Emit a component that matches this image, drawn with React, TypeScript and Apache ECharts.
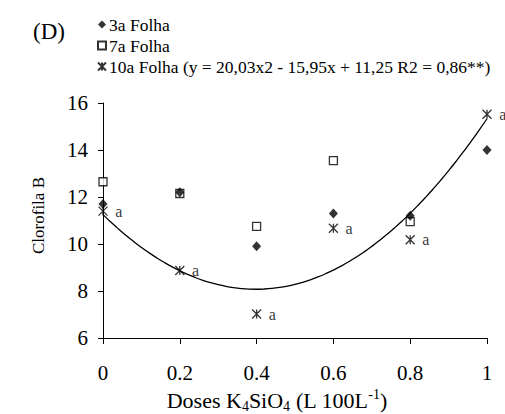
import React, { useEffect, useRef } from "react";
import * as echarts from "echarts";

// Doses of K4SiO4 (L 100L-1)
const doses = [0, 0.2, 0.4, 0.6, 0.8, 1];

// Chlorophyll B per leaf position (null = no point drawn)
const folha3 = [11.7, 12.2, 9.9, 11.3, 11.2, 14.0];
const folha7: (number | null)[] = [12.65, 12.15, 10.75, 13.55, 10.95, null];
const folha10 = [11.4, 8.87, 7.02, 10.67, 10.18, 15.52];

// Quadratic fit for the 10th leaf: y = a x^2 + b x + c
const fitCoefs = [20.03, -15.95, 11.25];

const yTicks = [6, 8, 10, 12, 14, 16];

const names = [
  "3a Folha",
  "7a Folha",
  "10a Folha (y = 20,03x2 - 15,95x + 11,25 R2 = 0,86**)",
];

const serif = "Liberation Serif, Times New Roman, serif";
const starPath = "path://M0,0L10,10M10,0L0,10M5,0L5,10";

export default function App() {
  const ref = useRef<HTMLDivElement>(null);

  useEffect(() => {
    if (!ref.current) return;
    const chart = echarts.init(ref.current, undefined, { renderer: "svg" });

    const fitLine: number[][] = [];
    for (let i = 0; i <= 50; i++) {
      const x = i / 50;
      fitLine.push([x, fitCoefs[0] * x * x + fitCoefs[1] * x + fitCoefs[2]]);
    }

    const pairs = (ys: (number | null)[]) =>
      doses.map((d, i) => (ys[i] == null ? [d, "-"] : [d, ys[i]]));

    chart.setOption({
      animation: false,
      backgroundColor: "#fff",
      textStyle: { fontFamily: serif, color: "#000" },
      grid: { left: 103, right: 18, top: 103, bottom: 76, outerBoundsMode: "none", containLabel: false },
      graphic: [
        {
          type: "text",
          left: 33,
          top: 20,
          style: { text: "(D)", fontFamily: serif, fontSize: 23, fill: "#000" },
        },
      ],
      legend: {
        orient: "vertical",
        left: 92,
        top: 10,
        itemWidth: 8,
        itemHeight: 8,
        itemGap: 2,
        textStyle: {
          fontFamily: serif,
          fontSize: 17.5,
          lineHeight: 19,
          color: "#000",
          padding: [0, 0, 0, -2],
        },
        data: [
          { name: names[0], icon: "diamond" },
          { name: names[1], icon: "rect" },
          { name: names[2], icon: starPath },
        ],
      },
      xAxis: {
        type: "value",
        min: 0,
        max: 1,
        interval: 0.2,
        axisLine: { lineStyle: { color: "#000", width: 1 } },
        axisTick: { show: true, length: 6, lineStyle: { color: "#000" } },
        splitLine: { show: false },
        axisLabel: {
          fontFamily: serif,
          fontSize: 21,
          color: "#000",
          margin: 24,
          formatter: (v: number) => String(Math.round(v * 10) / 10),
        },
        name: "{a|Doses K}{s|4}{a|SiO}{s|4}{a| (L 100L}{p|-1}{a|)}",
        nameLocation: "middle",
        nameGap: 47,
        nameTextStyle: {
          padding: [0, 36, 0, 0],
          rich: {
            a: { fontFamily: serif, fontSize: 22, lineHeight: 26, color: "#000" },
            s: { fontFamily: serif, fontSize: 14, lineHeight: 13, verticalAlign: "bottom", color: "#000" },
            p: { fontFamily: serif, fontSize: 14, lineHeight: 13, verticalAlign: "top", color: "#000" },
          },
        },
      },
      yAxis: {
        type: "value",
        min: yTicks[0],
        max: yTicks[yTicks.length - 1],
        interval: 2,
        axisLine: { show: true, lineStyle: { color: "#000", width: 1 } },
        axisTick: { show: true, length: 5, lineStyle: { color: "#000" } },
        splitLine: { show: false },
        axisLabel: { fontFamily: serif, fontSize: 21, color: "#000", margin: 15 },
        name: "Clorofila B",
        nameLocation: "middle",
        nameGap: 56,
        nameTextStyle: { fontFamily: serif, fontSize: 17, color: "#000", padding: [0, 0, 0, 10] },
      },
      series: [
        {
          name: "fit",
          type: "line",
          data: fitLine,
          showSymbol: false,
          symbol: "none",
          smooth: true,
          lineStyle: { color: "#000", width: 1.3 },
          silent: true,
          z: 1,
        },
        {
          name: names[0],
          type: "scatter",
          data: pairs(folha3),
          symbol: "diamond",
          symbolSize: [9, 10],
          itemStyle: { color: "#000" },
          z: 3,
        },
        {
          name: names[1],
          type: "scatter",
          data: pairs(folha7),
          symbol: "rect",
          symbolSize: 8,
          itemStyle: { color: "#fff", borderColor: "#000", borderWidth: 1.3 },
          z: 2,
        },
        {
          name: names[2],
          type: "scatter",
          data: pairs(folha10),
          symbol: starPath,
          symbolSize: 9,
          itemStyle: { color: "#000", borderColor: "#000", borderWidth: 1.3 },
          label: {
            show: true,
            position: "right",
            distance: 7,
            formatter: "a",
            fontFamily: serif,
            fontSize: 16,
            color: "#000",
          },
          z: 4,
        },
      ],
    });

    return () => chart.dispose();
  }, []);

  return <div ref={ref} style={{ width: 505, height: 414, position: "absolute", left: 0, top: 0 }} />;
}
